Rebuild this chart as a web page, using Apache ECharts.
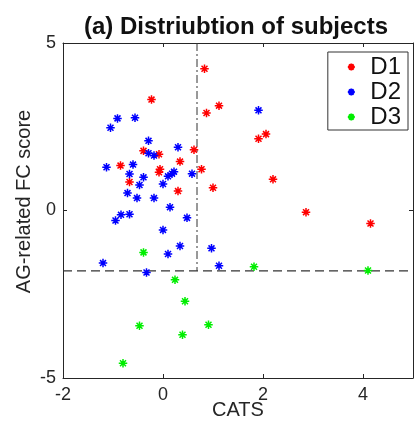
<!DOCTYPE html>
<html>
<head>
<meta charset="utf-8">
<script src="https://cdn.jsdelivr.net/npm/echarts@6/dist/echarts.min.js"></script>
<style>
  html, body { margin: 0; padding: 0; background: #fff; }
  #chart { width: 414px; height: 421px; }
</style>
</head>
<body>
<div id="chart"></div>
<script>
// scatter points [CATS, AG-related FC score]
const d1 = [
  [0.83, 4.23], [-0.23, 3.31], [1.12, 3.13], [0.87, 2.91], [-0.39, 1.78],
  [-0.08, 1.68], [0.62, 1.81], [0.34, 1.46], [-0.85, 1.34], [-0.06, 1.23],
  [-0.08, 1.14], [0.77, 1.23], [-0.67, 0.85], [1.0, 0.68], [0.30, 0.58],
  [2.06, 2.28], [1.91, 2.14], [2.2, 0.93], [2.86, -0.05], [4.15, -0.39]
];
const d2 = [
  [1.91, 2.99], [-0.91, 2.75], [-0.56, 2.77], [-1.05, 2.47], [-0.29, 2.08],
  [0.30, 1.89], [-0.29, 1.71], [-0.18, 1.64], [-1.13, 1.29], [-0.60, 1.37],
  [-0.67, 1.09], [-0.39, 0.99], [0.22, 1.16], [0.18, 1.10], [0.10, 1.02],
  [0.58, 1.10], [-0.47, 0.76], [0.0, 0.79], [-0.71, 0.52], [-0.52, 0.37],
  [-0.18, 0.37], [0.14, 0.10], [-0.84, -0.13], [-0.67, -0.11], [0.48, -0.22],
  [-0.95, -0.30], [0.0, -0.58], [0.34, -1.06], [0.10, -1.30], [-1.2, -1.57],
  [-0.33, -1.85], [0.97, -1.13], [1.12, -1.65]
];
const d3 = [
  [-0.39, -1.25], [0.24, -2.07], [0.44, -2.71], [-0.47, -3.44], [0.91, -3.41],
  [0.39, -3.71], [-0.80, -4.56], [1.82, -1.68], [4.1, -1.79]
];
const seriesNames = ['D1', 'D2', 'D3'];
const xTicks = [-2, 0, 2, 4];
const yTicks = [-5, 0, 5];
const xRange = [-2, 5];
const yRange = [-5, 5];
// threshold lines
const cutX = 0.68;
const cutY = -1.8;

const FONT = 'Liberation Sans, Arial, Helvetica, sans-serif';
const AX = '#262626';
const star = 'path://M5,0L5,10M0,5L10,5M1.5,1.5L8.5,8.5M1.5,8.5L8.5,1.5';

function pts(name, data, col) {
  return {
    name: name,
    type: 'scatter',
    data: data,
    symbol: star,
    symbolSize: 8.5,
    symbolKeepAspect: true,
    itemStyle: { color: 'rgba(0,0,0,0)', borderColor: col, borderWidth: 1.5, opacity: 1 },
    z: 5
  };
}

function frameAxis(extra) {
  return Object.assign({
    type: 'value',
    nameMoveOverlap: false,
    axisLine: { show: true, onZero: false, lineStyle: { color: AX, width: 1 } },
    splitLine: { show: false }
  }, extra);
}

var myChart = echarts.init(document.getElementById('chart'));
var option = {
  animation: false,
  backgroundColor: '#fff',
  title: {
    text: '(a) Distriubtion of subjects',
    left: 231,
    textAlign: 'center',
    top: 10,
    textStyle: { fontFamily: FONT, fontSize: 24, fontWeight: 'bold', color: '#111' }
  },
  legend: {
    orient: 'vertical',
    right: 6,
    top: 52,
    data: seriesNames,
    borderColor: '#333',
    borderWidth: 1,
    backgroundColor: '#fff',
    padding: [3, 7, 1, 19],
    itemWidth: 28,
    itemHeight: 7,
    itemGap: 1,
    textStyle: { fontFamily: FONT, fontSize: 24, color: '#111' }
  },
  grid: { left: 63, right: 1, top: 43, bottom: 43, outerBoundsMode: 'none', containLabel: false },
  xAxis: [frameAxis({
    min: xRange[0], max: xRange[1],
    name: 'CATS',
    nameLocation: 'middle',
    nameGap: 22,
    nameTextStyle: { fontFamily: FONT, fontSize: 20, color: AX },
    axisTick: { inside: true, length: 4, customValues: xTicks, lineStyle: { color: AX } },
    axisLabel: { customValues: xTicks, margin: 8, fontFamily: FONT, fontSize: 18, color: AX }
  }), frameAxis({
    position: 'top',
    min: xRange[0], max: xRange[1],
    axisTick: { inside: true, length: 4, customValues: xTicks, lineStyle: { color: AX } },
    axisLabel: { show: false }
  })],
  yAxis: [frameAxis({
    min: yRange[0], max: yRange[1],
    name: 'AG-related FC score',
    nameLocation: 'middle',
    nameGap: 29,
    nameTextStyle: { fontFamily: FONT, fontSize: 20, color: AX, padding: [0, 0, 0, 18] },
    axisTick: { inside: true, length: 4, customValues: yTicks, lineStyle: { color: AX } },
    axisLabel: { customValues: yTicks, margin: 7, fontFamily: FONT, fontSize: 18, color: AX }
  }), frameAxis({
    position: 'right',
    min: yRange[0], max: yRange[1],
    axisTick: { inside: true, length: 4, customValues: yTicks, lineStyle: { color: AX } },
    axisLabel: { show: false }
  })],
  series: [
    pts('D1', d1, '#ff0000'),
    pts('D2', d2, '#0000ff'),
    pts('D3', d3, '#00ee00'),
    {
      type: 'line',
      data: [[cutX, yRange[1]], [cutX, cutY]],
      symbol: 'none',
      lineStyle: { color: '#333', width: 1, type: [8, 3, 2, 3] },
      z: 2
    },
    {
      type: 'line',
      data: [[xRange[0], cutY], [xRange[1], cutY]],
      symbol: 'none',
      lineStyle: { color: '#333', width: 1.2, type: [9, 5] },
      z: 2
    }
  ]
};
myChart.setOption(option);
window.addEventListener('resize', () => {
  myChart.resize()
})
</script>
</body>
</html>
